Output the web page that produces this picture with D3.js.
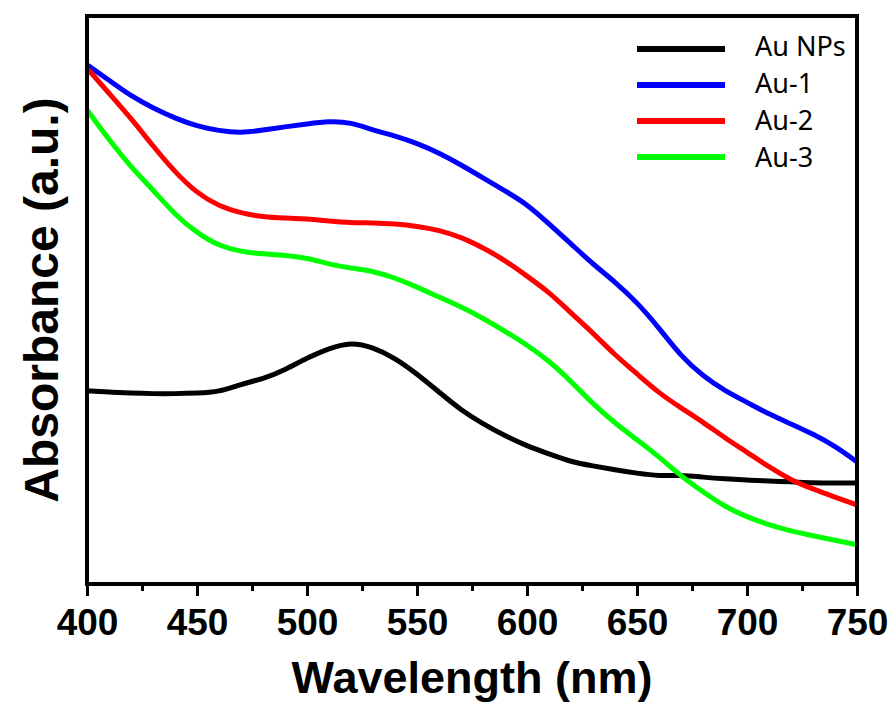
<!DOCTYPE html>
<html>
<head>
<meta charset="utf-8">
<script src="https://cdn.jsdelivr.net/npm/d3@7"></script>
<style>
  body { margin: 0; background: #fff; }
</style>
</head>
<body>
<svg id="chart"></svg>
<script>
// wavelength grid (nm)
const wavelengths = [400, 410, 420, 430, 440, 450, 460, 470, 480, 490, 500, 510, 520, 530, 540, 550, 560, 570,
                     580, 590, 600, 610, 620, 630, 640, 650, 660, 670, 680, 690, 700, 710, 720, 730, 740, 750];

// absorbance (a.u.)
const auNPs = [0.340, 0.338, 0.336, 0.335, 0.335, 0.336, 0.338, 0.352, 0.361, 0.377, 0.398, 0.415, 0.426, 0.417,
               0.398, 0.370, 0.338, 0.306, 0.282, 0.261, 0.243, 0.229, 0.215, 0.208, 0.201, 0.195, 0.190, 0.192,
               0.188, 0.185, 0.183, 0.181, 0.180, 0.178, 0.178, 0.178];
const au1 = [0.914, 0.887, 0.859, 0.838, 0.820, 0.806, 0.798, 0.794, 0.799, 0.805, 0.810, 0.815, 0.813, 0.799,
             0.789, 0.776, 0.759, 0.738, 0.715, 0.692, 0.669, 0.634, 0.599, 0.563, 0.532, 0.496, 0.451, 0.401,
             0.366, 0.340, 0.320, 0.299, 0.282, 0.264, 0.243, 0.215];
const au2 = [0.908, 0.864, 0.820, 0.771, 0.725, 0.688, 0.665, 0.653, 0.646, 0.644, 0.643, 0.639, 0.636, 0.636,
             0.634, 0.630, 0.623, 0.611, 0.592, 0.570, 0.542, 0.514, 0.477, 0.442, 0.403, 0.370, 0.336, 0.310,
             0.285, 0.257, 0.232, 0.206, 0.183, 0.167, 0.153, 0.139];
const au3 = [0.835, 0.782, 0.734, 0.694, 0.650, 0.618, 0.595, 0.585, 0.581, 0.579, 0.574, 0.563, 0.556, 0.551,
             0.539, 0.523, 0.505, 0.488, 0.468, 0.445, 0.421, 0.393, 0.357, 0.317, 0.283, 0.254, 0.224, 0.190,
             0.162, 0.136, 0.118, 0.104, 0.093, 0.085, 0.077, 0.069];

const seriesNames = ['Au NPs', 'Au-1', 'Au-2', 'Au-3'];
const seriesColors = ['#000000', '#0000ff', '#ff0000', '#00ff00'];
const seriesValues = [auNPs, au1, au2, au3];

const majorTicks = [400, 450, 500, 550, 600, 650, 700, 750];
const minorTicks = [425, 475, 525, 575, 625, 675, 725];

const width = 892;
const height = 704;
const margin = { top: 16, right: 35, bottom: 120, left: 87 };
const plotW = width - margin.left - margin.right;
const plotH = height - margin.top - margin.bottom;

const svg = d3.select('#chart')
              .attr('width', width)
              .attr('height', height);

const xScale = d3.scaleLinear()
                 .domain([400, 750])
                 .range([0, plotW]);
const yScale = d3.scaleLinear()
                 .domain([0, 1])
                 .range([plotH, 0]);

const plot = svg.append('g')
                .attr('transform', `translate(${margin.left},${margin.top})`);

// curves
const line = d3.line()
               .x((d) => xScale(d[0]))
               .y((d) => yScale(d[1]))
               .curve(d3.curveBasis);

seriesValues.forEach((vals, i) => {
  plot.append('path')
      .datum(wavelengths.map((w, j) => [w, vals[j]]))
      .attr('d', line)
      .attr('fill', 'none')
      .attr('stroke', seriesColors[i])
      .attr('stroke-width', 5)
      .attr('stroke-linejoin', 'round');
});

// bottom axis, major + minor ticks
const xAxis = d3.axisBottom(xScale)
                .tickValues(majorTicks)
                .tickSize(12)
                .tickFormat(d3.format('d'));
const xAxisG = plot.append('g')
                   .attr('transform', `translate(0,${plotH})`)
                   .call(xAxis);
xAxisG.select('.domain').remove();
xAxisG.selectAll('line').attr('stroke', '#000').attr('stroke-width', 3);
xAxisG.selectAll('text')
      .attr('y', 51)
      .attr('dy', null)
      .attr('fill', '#000')
      .style('font-family', '"Liberation Sans", Arial, sans-serif')
      .style('font-weight', 'bold')
      .style('font-size', '37px');

const xMinor = d3.axisBottom(xScale)
                 .tickValues(minorTicks)
                 .tickSize(7)
                 .tickFormat('');
const xMinorG = plot.append('g')
                    .attr('transform', `translate(0,${plotH})`)
                    .call(xMinor);
xMinorG.select('.domain').remove();
xMinorG.selectAll('line').attr('stroke', '#000').attr('stroke-width', 3);

// frame
plot.append('rect')
    .attr('x', 0)
    .attr('y', 0)
    .attr('width', plotW)
    .attr('height', plotH)
    .attr('fill', 'none')
    .attr('stroke', '#000')
    .attr('stroke-width', 4);

// axis titles
svg.append('text')
   .attr('x', margin.left + plotW / 2)
   .attr('y', 693)
   .attr('text-anchor', 'middle')
   .style('font-family', '"Liberation Sans", Arial, sans-serif')
   .style('font-weight', 'bold')
   .style('font-size', '45px')
   .text('Wavelength (nm)');

svg.append('text')
   .attr('transform', `translate(58,${margin.top + plotH / 2}) rotate(-90)`)
   .attr('text-anchor', 'middle')
   .style('font-family', '"Liberation Sans", Arial, sans-serif')
   .style('font-weight', 'bold')
   .style('font-size', '48px')
   .text('Absorbance (a.u.)');

// legend
const legend = svg.append('g')
                  .attr('transform', 'translate(637,49)');
seriesNames.forEach((name, i) => {
  const row = legend.append('g')
                    .attr('transform', `translate(0,${i * 36})`);
  row.append('line')
     .attr('x1', 0)
     .attr('x2', 88)
     .attr('y1', 0)
     .attr('y2', 0)
     .attr('stroke', seriesColors[i])
     .attr('stroke-width', 6);
  row.append('text')
     .attr('x', 118)
     .attr('y', 7 + i)
     .style('font-family', '"Noto Sans", sans-serif')
     .style('font-size', '27px')
     .attr('fill', '#000')
     .text(name);
});
</script>
</body>
</html>
